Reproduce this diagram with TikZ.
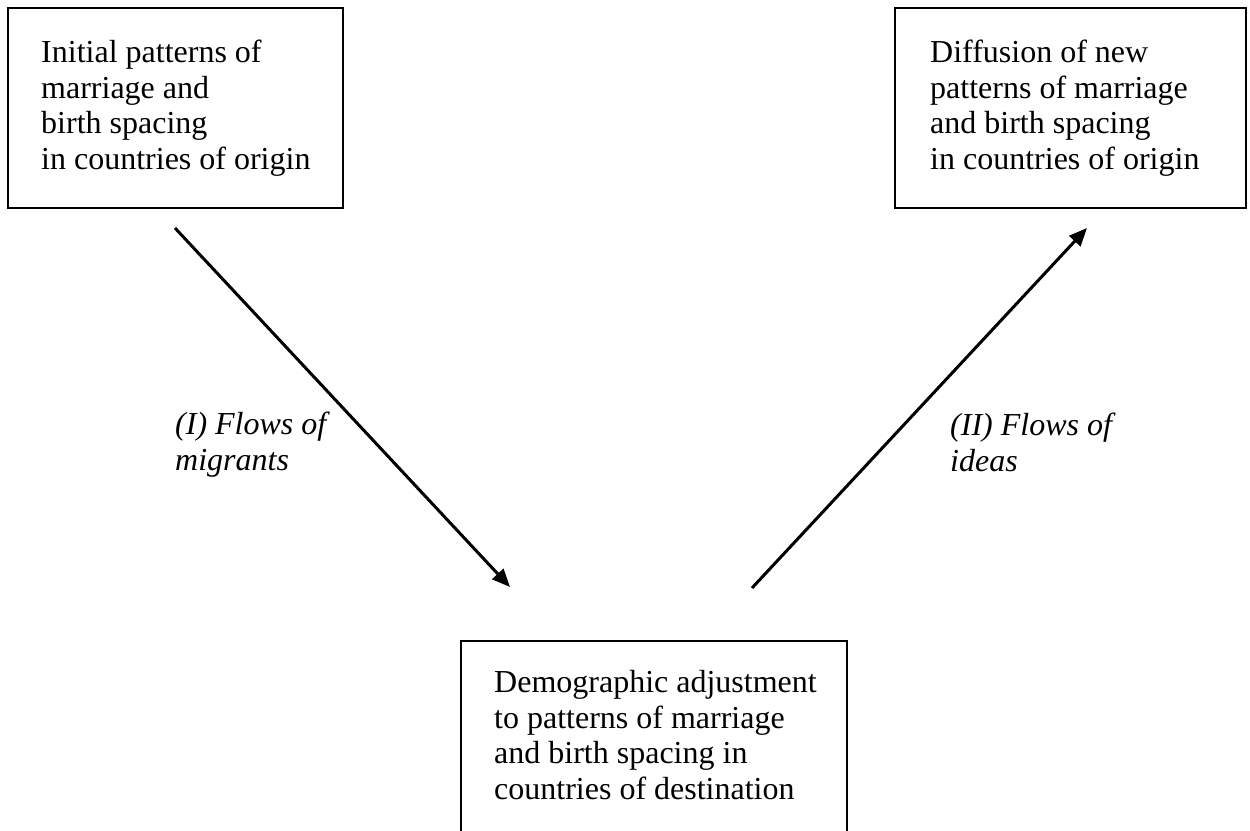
\documentclass[tikz,border=0pt]{standalone}
\usepackage{fontspec}
\setmainfont{Liberation Serif}
\usetikzlibrary{arrows.meta}
\begin{document}
\begin{tikzpicture}[x=1pt,y=-1pt,
  boxnode/.style={draw=black, line width=1.6pt, inner sep=0pt, outer sep=0pt},
  txt/.style={anchor=north west, align=left, inner sep=0pt, font=\fontsize{32}{35.6}\selectfont},
  lbl/.style={anchor=north west, align=left, inner sep=0pt, font=\fontsize{32}{35.6}\selectfont\itshape},
  arr/.style={line width=3pt, -{Triangle[length=18pt,width=15pt]}}]
\useasboundingbox (0,0) rectangle (1250,830);
% boxes
\node[boxnode, minimum width=335pt, minimum height=200pt] (A) at (175.5,108) {};
\node[boxnode, minimum width=351pt, minimum height=200pt] (B) at (1070.5,108) {};
\node[boxnode, minimum width=386pt, minimum height=219pt] (C) at (654,750.5) {};
% texts
\node[txt] (At) at (41,40) {Initial patterns of\\marriage and\\birth spacing\\in countries of origin};
\node[txt] (Bt) at (930,40) {Diffusion of new\\patterns of marriage\\and birth spacing\\in countries of origin};
\node[txt] (Ct) at (494,670) {Demographic adjustment\\to patterns of marriage\\and birth spacing in\\countries of destination};
% labels
\node[lbl] (L1) at (175,412) {(I) Flows of\\migrants};
\node[lbl] (L2) at (950,413) {(II) Flows of\\ideas};
% arrows
\coordinate (a1) at (175,228);
\coordinate (a2) at (510,587);
\coordinate (b1) at (752,588);
\coordinate (b2) at (1087,228);
\draw[arr] (a1) -- (a2);
\draw[arr] (b1) -- (b2);
\end{tikzpicture}
\end{document}
